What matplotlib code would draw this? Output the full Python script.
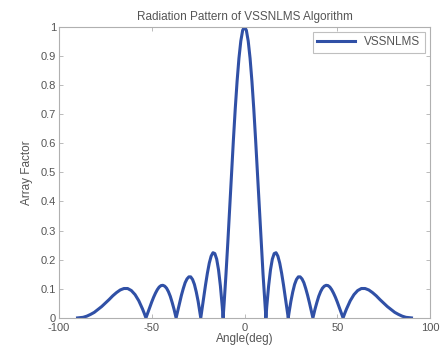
import matplotlib
matplotlib.use("Agg")
import matplotlib.pyplot as plt

# angles (deg) and array factor
angle_deg = [-90, -87, -85, -83, -81, -79, -77, -75, -73, -71, -69, -67, -65, -63, -61, -59, -57, -55,
             -54, -53.13, -52, -51, -50, -49, -48, -47, -46, -45, -44, -43, -42, -41, -40, -39, -38,
             -36.87, -36, -35, -34, -33, -32, -31, -30, -29, -28, -27, -26, -25, -24, -23.58,
             -23, -22, -21, -20, -19, -18, -17, -16, -15, -14, -13, -12, -11.54,
             -11, -10, -9, -8, -7, -6, -5, -4, -3, -2, -1, 0,
             1, 2, 3, 4, 5, 6, 7, 8, 9, 10, 11,
             11.54, 12, 13, 14, 15, 16, 17, 18, 19, 20, 21, 22, 23,
             23.58, 24, 25, 26, 27, 28, 29, 30, 31, 32, 33, 34, 35, 36,
             36.87, 38, 39, 40, 41, 42, 43, 44, 45, 46, 47, 48, 49, 50, 51, 52,
             53.13, 54, 55, 57, 59, 61, 63, 65, 67, 69, 71, 73, 75, 77, 79, 81, 83, 85, 87, 90]
array_factor = [0.0, 0.002, 0.006, 0.012, 0.019, 0.029, 0.039, 0.051, 0.063, 0.076, 0.087, 0.096, 0.101, 0.101, 0.094, 0.080, 0.059, 0.031,
                0.015, 0.0, 0.020, 0.037, 0.055, 0.071, 0.085, 0.097, 0.106, 0.111, 0.112, 0.109, 0.102, 0.090, 0.074, 0.053, 0.030,
                0.0, 0.024, 0.052, 0.078, 0.101, 0.121, 0.134, 0.141, 0.141, 0.132, 0.115, 0.089, 0.057, 0.018, 0.0,
                0.025, 0.070, 0.114, 0.154, 0.188, 0.212, 0.224, 0.221, 0.202, 0.165, 0.110, 0.039, 0.0,
                0.049, 0.149, 0.259, 0.376, 0.495, 0.610, 0.718, 0.813, 0.892, 0.951, 0.988, 1.0,
                0.988, 0.951, 0.892, 0.813, 0.718, 0.610, 0.495, 0.376, 0.259, 0.149, 0.049,
                0.0, 0.039, 0.110, 0.165, 0.202, 0.221, 0.224, 0.212, 0.188, 0.154, 0.114, 0.070, 0.025,
                0.0, 0.018, 0.057, 0.089, 0.115, 0.132, 0.141, 0.141, 0.134, 0.121, 0.101, 0.078, 0.052, 0.024,
                0.0, 0.030, 0.053, 0.074, 0.090, 0.102, 0.109, 0.112, 0.111, 0.106, 0.097, 0.085, 0.071, 0.055, 0.037, 0.020,
                0.0, 0.015, 0.031, 0.059, 0.080, 0.094, 0.101, 0.101, 0.096, 0.087, 0.076, 0.063, 0.051, 0.039, 0.029, 0.019, 0.012, 0.006, 0.002, 0.0]

x_ticks = [-100, -50, 0, 50, 100]
y_ticks = [0, 0.1, 0.2, 0.3, 0.4, 0.5, 0.6, 0.7, 0.8, 0.9, 1]
y_tick_labels = ['0', '0.1', '0.2', '0.3', '0.4', '0.5', '0.6', '0.7', '0.8', '0.9', '1']

plt.rcParams['font.family'] = ['Liberation Sans', 'DejaVu Sans']
plt.rcParams['axes.unicode_minus'] = False
text_col = '#555555'
edge_col = '#b0b0b0'

fig = plt.figure(figsize=(4.47, 3.58), dpi=100)
ax = fig.add_axes([0.132, 0.112, 0.830, 0.813])
ax.plot(angle_deg, array_factor, color='#3050a6', lw=2.2, label='VSSNLMS')

ax.set_xlim(-100, 100)
ax.set_ylim(0, 1)
ax.set_xticks(x_ticks)
ax.set_yticks(y_ticks)
ax.set_yticklabels(y_tick_labels)
ax.tick_params(direction='in', length=3, width=0.6, color=edge_col, labelcolor=text_col,
               labelsize=8, top=True, right=True, pad=2)
ax.tick_params(axis='x', pad=3.5)
for s in ax.spines.values():
    s.set_color(edge_col)
    s.set_linewidth(0.8)

ax.set_title('Radiation Pattern of VSSNLMS Algorithm', fontsize=8.5, color=text_col, pad=5)
ax.set_xlabel('Angle(deg)', fontsize=8.5, color=text_col, labelpad=0)
ax.set_ylabel('Array Factor', fontsize=8.5, color=text_col, labelpad=6)

leg = ax.legend(loc='upper right', fontsize=8.5, fancybox=False, handlelength=3.2,
                borderpad=0.4, borderaxespad=0.4, labelcolor=text_col)
leg.get_frame().set_edgecolor(edge_col)
leg.get_frame().set_linewidth(0.8)

fig.savefig('out.png', dpi=100)
